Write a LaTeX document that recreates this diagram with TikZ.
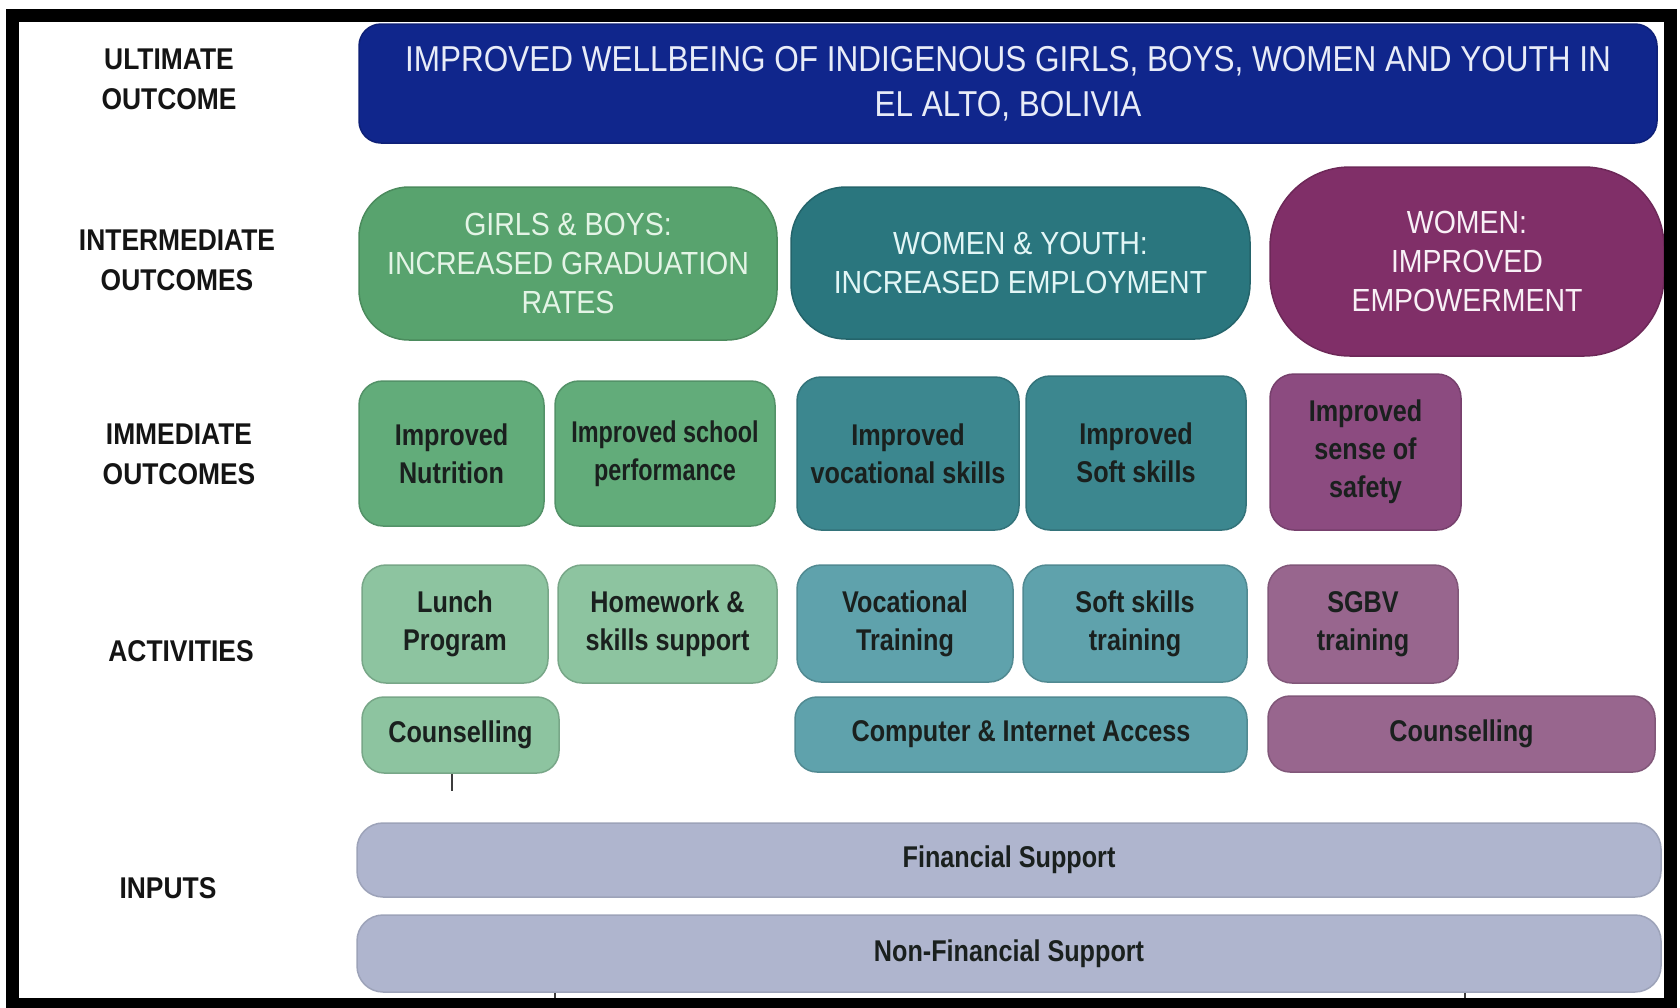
\documentclass[tikz,border=0pt]{standalone}
\usepackage{fontspec}
\newfontfamily\labfont{Liberation Sans}[FakeStretch=0.88]
\newfontfamily\capfont{Liberation Sans}[FakeStretch=0.875]
\newfontfamily\intfont{Liberation Sans}[FakeStretch=0.89]
\newfontfamily\boxfont{Liberation Sans}[FakeStretch=0.84]
\newfontfamily\tightfont{Liberation Sans}[FakeStretch=0.78]
\definecolor{ultblue}{RGB}{16,38,140}
\definecolor{intgreen}{RGB}{88,163,110}
\definecolor{intteal}{RGB}{42,118,126}
\definecolor{intpurple}{RGB}{128,47,104}
\definecolor{immgreen}{RGB}{98,172,122}
\definecolor{immteal}{RGB}{60,135,143}
\definecolor{immpurple}{RGB}{140,75,128}
\definecolor{actgreen}{RGB}{141,196,160}
\definecolor{actteal}{RGB}{95,162,172}
\definecolor{actpurple}{RGB}{152,102,142}
\definecolor{inputgrey}{RGB}{175,181,206}
\definecolor{darktext}{RGB}{26,32,30}
\definecolor{labtext}{RGB}{20,20,20}
\begin{document}
\begin{tikzpicture}[x=1pt,y=-1pt,
  lab/.style={font=\labfont\bfseries\fontsize{30}{40}\selectfont, align=center, text=labtext, inner sep=0},
  box/.style={inner sep=0, align=center, line width=1.5pt},
  ulttext/.style={font=\capfont\fontsize{36}{45}\selectfont, text={rgb,255:red,232;green,236;blue,248}},
  inttext/.style={font=\intfont\fontsize{32}{39}\selectfont},
  smalltext/.style={font=\boxfont\bfseries\fontsize{30}{38}\selectfont, text=darktext},
  tighttext/.style={font=\tightfont\bfseries\fontsize{30}{38}\selectfont, text=darktext},
  tickline/.style={draw={rgb,255:red,60;green,60;blue,60}, line width=2pt}
]
\useasboundingbox (0,0) rectangle (1680,1007);
\fill[white] (0,0) rectangle (1680,1007);

% left labels
\node[lab] (lult) at (169,79) {ULTIMATE\\OUTCOME};
\node[lab] (lint) at (177,260) {INTERMEDIATE\\OUTCOMES};
\node[lab] (limm) at (179,454) {IMMEDIATE\\OUTCOMES};
\node[lab] (lact) at (181,651) {ACTIVITIES};
\node[lab] (linp) at (168,888) {INPUTS};

% ultimate outcome
\node[box, ulttext, rounded corners=22pt, fill=ultblue, draw=ultblue!85!black,
  minimum width=1298pt, minimum height=119pt] (ult) at (1008,83.5)
  {IMPROVED WELLBEING OF INDIGENOUS GIRLS, BOYS, WOMEN AND YOUTH IN\\EL ALTO, BOLIVIA};

% intermediate outcomes
\node[box, inttext, text={rgb,255:red,228;green,244;blue,230}, rounded corners=50pt,
  fill=intgreen, draw=intgreen!85!black, minimum width=418pt, minimum height=153pt]
  (intg) at (568,263.5) {GIRLS \& BOYS:\\INCREASED GRADUATION\\RATES};
\node[box, inttext, text={rgb,255:red,226;green,246;blue,246}, rounded corners=55pt,
  fill=intteal, draw=intteal!85!black, minimum width=459pt, minimum height=152pt]
  (intt) at (1020.5,263) {WOMEN \& YOUTH:\\INCREASED EMPLOYMENT};
\node[box, inttext, text={rgb,255:red,248;green,240;blue,246}, rounded corners=80pt,
  fill=intpurple, draw=intpurple!85!black, minimum width=394pt, minimum height=189pt]
  (intp) at (1467,261.5) {WOMEN:\\IMPROVED\\EMPOWERMENT};

% immediate outcomes
\node[box, smalltext, rounded corners=24pt, fill=immgreen, draw=immgreen!85!black,
  minimum width=185pt, minimum height=145pt] (imm1) at (451.5,453.5) {Improved\\Nutrition};
\node[box, tighttext, rounded corners=24pt, fill=immgreen, draw=immgreen!85!black,
  minimum width=220pt, minimum height=145pt] (imm2) at (665,453.5) {Improved school\\performance};
\node[box, smalltext, rounded corners=24pt, fill=immteal, draw=immteal!85!black,
  minimum width=222pt, minimum height=153pt] (imm3) at (908,453.5) {Improved\\vocational skills};
\node[box, smalltext, rounded corners=24pt, fill=immteal, draw=immteal!85!black,
  minimum width=220pt, minimum height=154pt] (imm4) at (1136,453) {Improved\\Soft skills};
\node[box, smalltext, rounded corners=24pt, fill=immpurple, draw=immpurple!85!black,
  minimum width=191pt, minimum height=156pt] (imm5) at (1365.5,452) {Improved\\sense of\\safety};

% activities
\node[box, smalltext, rounded corners=24pt, fill=actgreen, draw=actgreen!85!black,
  minimum width=186pt, minimum height=118pt] (act1) at (455,624) {Lunch\\Program};
\node[box, smalltext, rounded corners=24pt, fill=actgreen, draw=actgreen!85!black,
  minimum width=219pt, minimum height=118pt] (act2) at (667.5,624) {Homework \&\\skills support};
\node[box, smalltext, rounded corners=24pt, fill=actteal, draw=actteal!85!black,
  minimum width=216pt, minimum height=117pt] (act3) at (905,623.5) {Vocational\\Training};
\node[box, smalltext, rounded corners=24pt, fill=actteal, draw=actteal!85!black,
  minimum width=224pt, minimum height=117pt] (act4) at (1135,623.5) {Soft skills\\training};
\node[box, smalltext, rounded corners=24pt, fill=actpurple, draw=actpurple!85!black,
  minimum width=190pt, minimum height=118pt] (act5) at (1363,624) {SGBV\\training};
\node[box, smalltext, rounded corners=22pt, fill=actgreen, draw=actgreen!85!black,
  minimum width=197pt, minimum height=76pt] (cg) at (460.5,735) {Counselling};
\node[box, smalltext, rounded corners=22pt, fill=actteal, draw=actteal!85!black,
  minimum width=452pt, minimum height=75pt] (comp) at (1021,734.5) {Computer \& Internet Access};
\node[box, smalltext, rounded corners=22pt, fill=actpurple, draw=actpurple!85!black,
  minimum width=387pt, minimum height=76pt] (cp) at (1461.5,734) {Counselling};

% inputs
\node[box, smalltext, rounded corners=26pt, fill=inputgrey, draw=inputgrey!90!black,
  minimum width=1304pt, minimum height=74pt] (fin) at (1009,860) {Financial Support};
\node[box, smalltext, rounded corners=26pt, fill=inputgrey, draw=inputgrey!90!black,
  minimum width=1304pt, minimum height=77pt] (nfin) at (1009,953.5) {Non-Financial Support};

% small ticks
\coordinate (t1) at (452,791);
\coordinate (b1) at (555,1001);
\coordinate (b2) at (1465,1001);
\draw[tickline] (cg.south -| t1) -- (t1);
\draw[tickline] (nfin.south -| b1) -- (b1);
\draw[tickline] (nfin.south -| b2) -- (b2);

% frame
\draw[line width=13pt] (12,15) rectangle (1670,1004);
\end{tikzpicture}
\end{document}
